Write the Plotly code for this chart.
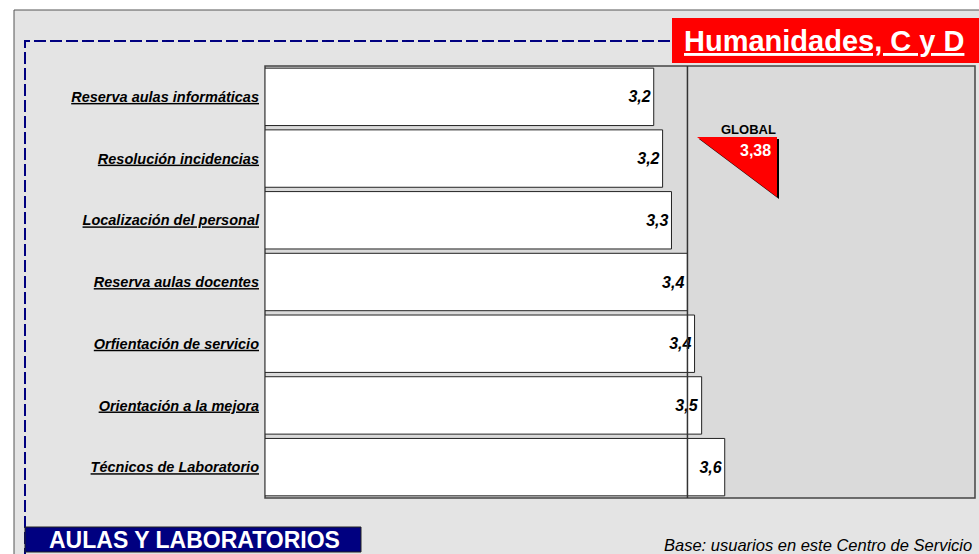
import plotly.graph_objects as go

# data
categories = [
    "Reserva aulas informáticas",
    "Resolución incidencias",
    "Localización del personal",
    "Reserva aulas docentes",
    "Orfientación de servicio",
    "Orientación a la mejora",
    "Técnicos de Laboratorio",
]
values = [3.19, 3.24, 3.29, 3.38, 3.42, 3.46, 3.59]
global_value = 3.38
axis_min, axis_max = 1, 5

title_text = "Humanidades, C y D"
section_text = "AULAS Y LABORATORIOS"
base_text = "Base: usuarios en este Centro de Servicio"

W, H = 979, 554
L, R, T, B = 265, 4, 66, 56
PW, PH = W - L - R, H - T - B
FONT = "Arial, Liberation Sans, sans-serif"


def px(x):
    return (x - L) / PW


def py(y):
    return 1 - (y - T) / PH


def comma(v, d):
    return f"{v:.{d}f}".replace(".", ",")


def note(x, y, text, size, color, xanchor="center"):
    return dict(x=px(x), y=py(y), xref="paper", yref="paper", showarrow=False,
                xanchor=xanchor, yanchor="middle", text=text,
                font=dict(family=FONT, size=size, color=color))


fig = go.Figure()

fig.add_trace(go.Bar(
    y=categories,
    x=[v - axis_min for v in values],
    base=axis_min,
    orientation="h",
    marker=dict(color="white", line=dict(color="#222222", width=1)),
    text=[f"<b><i>{comma(v, 1)}</i></b>" for v in values],
    textposition="inside",
    insidetextanchor="end",
    textfont=dict(family=FONT, size=16, color="black"),
    hoverinfo="skip",
))

shapes = [
    # outer frame
    dict(type="rect", xref="paper", yref="paper", layer="below",
         x0=px(14), x1=px(990), y0=py(10), y1=py(565),
         fillcolor="#e4e4e4", line=dict(color="#555555", width=1)),
    # plot area background
    dict(type="rect", xref="paper", yref="paper", layer="below",
         x0=0, x1=1, y0=0, y1=1,
         fillcolor="#dadada", line=dict(color="#444444", width=1.5)),
    # dashed navy border
    dict(type="path", xref="paper", yref="paper", layer="above",
         path=f"M {px(25)},{py(560)} L {px(25)},{py(41)} L {px(672)},{py(41)}",
         line=dict(color="#000080", width=2, dash="12px,4px")),
    # title box
    dict(type="rect", xref="paper", yref="paper", layer="above",
         x0=px(672), x1=px(990), y0=py(18), y1=py(63),
         fillcolor="#ff0000", line=dict(width=0)),
    # section box
    dict(type="rect", xref="paper", yref="paper", layer="above",
         x0=px(25), x1=px(361), y0=py(527), y1=py(552),
         fillcolor="#000080", line=dict(color="#222222", width=1)),
    # global line
    dict(type="line", xref="x", yref="paper", layer="above",
         x0=global_value, x1=global_value, y0=0, y1=1,
         line=dict(color="#333333", width=1.5)),
    # global marker shadow + triangle
    dict(type="path", xref="paper", yref="paper", layer="above",
         path=f"M {px(699)},{py(139)} L {px(779)},{py(139)} L {px(779)},{py(199)} Z",
         fillcolor="black", line=dict(width=0)),
    dict(type="path", xref="paper", yref="paper", layer="above",
         path=f"M {px(697)},{py(137)} L {px(777)},{py(137)} L {px(777)},{py(197)} Z",
         fillcolor="#ff0000", line=dict(width=0)),
]

annotations = [
    note(824, 41, f"<b><u>{title_text}</u></b>", 29, "white"),
    note(194, 540, f"<b>{section_text}</b>", 23, "white"),
    note(662, 545, f"<i>{base_text}</i>", 16.5, "black", xanchor="left"),
    note(748, 129, "<b>GLOBAL</b>", 13, "black"),
    note(755, 150, f"<b>{comma(global_value, 2)}</b>", 16, "white"),
]

fig.update_layout(
    width=W, height=H,
    margin=dict(l=L, r=R, t=T, b=B),
    paper_bgcolor="white",
    plot_bgcolor="rgba(0,0,0,0)",
    bargap=0.07,
    showlegend=False,
    shapes=shapes,
    annotations=annotations,
    xaxis=dict(range=[axis_min, axis_max], visible=False, fixedrange=True),
    yaxis=dict(
        autorange="reversed",
        tickmode="array",
        tickvals=categories,
        ticktext=[f"<b><i><u>{c}</u></i></b>" for c in categories],
        tickfont=dict(family=FONT, size=14.5, color="black"),
        ticks="", showgrid=False, showline=False, zeroline=False,
        ticklabelstandoff=5,
    ),
)

fig.write_html("out.html", config={"displayModeBar": False},
               post_script="document.body.style.margin='0';")
